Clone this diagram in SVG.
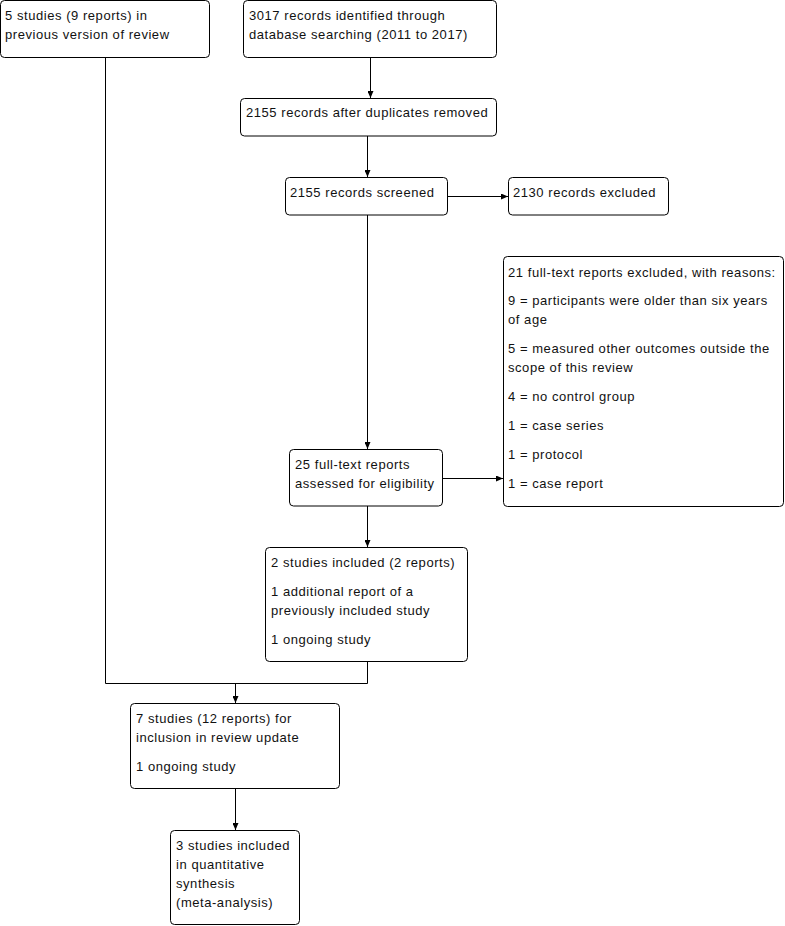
<svg xmlns="http://www.w3.org/2000/svg" width="785" height="926" viewBox="0 0 785 926">
<defs>
<marker id="ah" markerWidth="8" markerHeight="6" refX="7" refY="3" orient="auto" markerUnits="userSpaceOnUse">
<path d="M0,0 L7,3 L0,6 Z" fill="#000"/>
</marker>
<style>
rect{fill:#fff;stroke:#000;stroke-width:1}
text{font-family:"Liberation Sans",Arial,sans-serif;font-size:13px;letter-spacing:0.55px;fill:#111}
.c line,.c path{stroke:#000;stroke-width:1;fill:none}
</style>
</defs>
<rect x="0" y="0" width="785" height="926" style="stroke:none"/>
<g class="c" id="connectors">
<line x1="370.5" y1="57" x2="370.5" y2="98" marker-end="url(#ah)"/>
<line x1="367.5" y1="136" x2="367.5" y2="177" marker-end="url(#ah)"/>
<line x1="447" y1="196.5" x2="508" y2="196.5" marker-end="url(#ah)"/>
<line x1="367.5" y1="215" x2="367.5" y2="449" marker-end="url(#ah)"/>
<line x1="442.5" y1="478.5" x2="503" y2="478.5" marker-end="url(#ah)"/>
<line x1="367.5" y1="506" x2="367.5" y2="547" marker-end="url(#ah)"/>
<path d="M105.5,57 V683.5 H367.5 V662"/>
<line x1="235.5" y1="683.5" x2="235.5" y2="703" marker-end="url(#ah)"/>
<line x1="235.5" y1="788" x2="235.5" y2="830" marker-end="url(#ah)"/>
</g>
<g id="n1"><rect x="0.5" y="0.5" width="209" height="57" rx="4"/>
<text x="5" y="20">5 studies (9 reports) in</text><text x="5" y="39">previous version of review</text></g>
<g id="n2"><rect x="243.5" y="0.5" width="253" height="57" rx="4"/>
<text x="249" y="20">3017 records identified through</text><text x="249" y="39">database searching (2011 to 2017)</text></g>
<g id="n3"><rect x="240.5" y="98.5" width="256" height="37.5" rx="4"/>
<text x="246" y="117">2155 records after duplicates removed</text></g>
<g id="n4"><rect x="285.5" y="177.5" width="162" height="37.5" rx="4"/>
<text x="290" y="197">2155 records screened</text></g>
<g id="n5"><rect x="508.5" y="177.5" width="160" height="37.5" rx="4"/>
<text x="513" y="197">2130 records excluded</text></g>
<g id="n6"><rect x="503.5" y="256.5" width="280" height="250" rx="4"/>
<text x="508" y="277">21 full-text reports excluded, with reasons:</text>
<text x="508" y="305">9 = participants were older than six years</text>
<text x="508" y="324">of age</text>
<text x="508" y="353">5 = measured other outcomes outside the</text>
<text x="508" y="372">scope of this review</text>
<text x="508" y="401">4 = no control group</text>
<text x="508" y="430">1 = case series</text>
<text x="508" y="459">1 = protocol</text>
<text x="508" y="488">1 = case report</text></g>
<g id="n7"><rect x="289.5" y="449.5" width="153" height="56.5" rx="4"/>
<text x="295" y="469">25 full-text reports</text><text x="295" y="488">assessed for eligibility</text></g>
<g id="n8"><rect x="265.5" y="547.5" width="202" height="114" rx="4"/>
<text x="271" y="567">2 studies included (2 reports)</text>
<text x="271" y="596">1 additional report of a</text>
<text x="271" y="615">previously included study</text>
<text x="271" y="644">1 ongoing study</text></g>
<g id="n9"><rect x="130.5" y="703.5" width="209" height="85" rx="4"/>
<text x="136" y="723">7 studies (12 reports) for</text>
<text x="136" y="742">inclusion in review update</text>
<text x="136" y="771">1 ongoing study</text></g>
<g id="n10"><rect x="170.5" y="830.5" width="129" height="94" rx="4"/>
<text x="176" y="850">3 studies included</text>
<text x="176" y="869">in quantitative</text>
<text x="176" y="888">synthesis</text>
<text x="176" y="907">(meta-analysis)</text></g>
</svg>
